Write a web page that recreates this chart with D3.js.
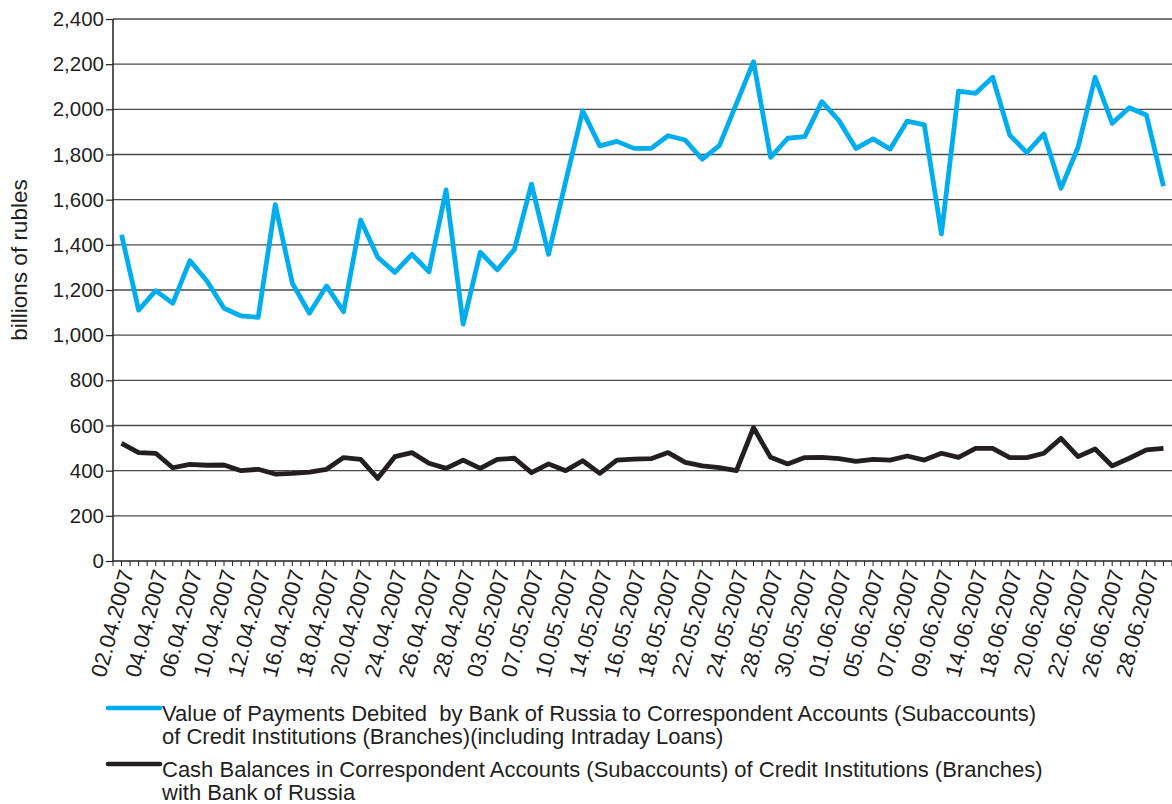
<!DOCTYPE html>
<meta charset="utf-8">
<head>
    <style>
        body { margin: 0; background: #fff; }
        text { font-family: "Liberation Sans", Arial, sans-serif; fill: #231f20; }
        .legend text { white-space: pre; }
    </style>
    <script src="https://d3js.org/d3.v7.min.js"></script>
</head>
<div id="my_dataviz"></div>

<script>

// trading days, April - June 2007
var dates = ["02.04.2007","03.04.2007","04.04.2007","05.04.2007","06.04.2007","09.04.2007","10.04.2007","11.04.2007",
    "12.04.2007","13.04.2007","16.04.2007","17.04.2007","18.04.2007","19.04.2007","20.04.2007","23.04.2007",
    "24.04.2007","25.04.2007","26.04.2007","27.04.2007","28.04.2007","02.05.2007","03.05.2007","04.05.2007",
    "07.05.2007","08.05.2007","10.05.2007","11.05.2007","14.05.2007","15.05.2007","16.05.2007","17.05.2007",
    "18.05.2007","21.05.2007","22.05.2007","23.05.2007","24.05.2007","25.05.2007","28.05.2007","29.05.2007",
    "30.05.2007","31.05.2007","01.06.2007","04.06.2007","05.06.2007","06.06.2007","07.06.2007","08.06.2007",
    "09.06.2007","13.06.2007","14.06.2007","15.06.2007","18.06.2007","19.06.2007","20.06.2007","21.06.2007",
    "22.06.2007","25.06.2007","26.06.2007","27.06.2007","28.06.2007","29.06.2007"];

// value of payments debited (billions of rubles)
var payments = [1445,1111,1197,1141,1330,1240,1119,1085,1079,1578,1230,1097,1218,1104,1510,1345,
    1278,1358,1281,1643,1049,1367,1289,1380,1669,1358,1680,1993,1838,1858,1827,1827,
    1883,1864,1779,1839,2025,2211,1787,1872,1879,2034,1950,1827,1869,1824,1948,1931,
    1448,2081,2071,2142,1886,1808,1891,1650,1832,2142,1938,2007,1975,1660];

// cash balances in correspondent accounts (billions of rubles)
var balances = [521,480,477,413,428,424,425,400,406,385,388,394,406,458,450,366,
    462,480,433,410,447,410,450,455,391,430,400,444,388,447,451,453,
    480,437,421,413,400,590,459,430,458,459,453,441,450,447,465,447,
    477,459,499,499,458,458,477,543,462,496,421,455,492,499];

var yTicks = [0,200,400,600,800,1000,1200,1400,1600,1800,2000,2200,2400];

var seriesNames = [
    ["Value of Payments Debited  by Bank of Russia to Correspondent Accounts (Subaccounts)",
     "of Credit Institutions (Branches)(including Intraday Loans)"],
    ["Cash Balances in Correspondent Accounts (Subaccounts) of Credit Institutions (Branches)",
     "with Bank of Russia"]
];
var seriesColors = ["#00aeef", "#231f20"];

var margin = {top: 19, right: 0, bottom: 243, left: 113},
    width = 1172 - margin.left - margin.right,
    height = 804 - margin.top - margin.bottom;

var xScale = d3.scaleBand().domain(d3.range(dates.length)).range([0, width]),
    yScale = d3.scaleLinear().domain([0, 2400]).range([height, 0]);

var root = d3.select("#my_dataviz")
  .append("svg")
    .attr("width", 1172)
    .attr("height", 804);

var svg = root.append("g")
    .attr("transform", "translate(" + margin.left + "," + margin.top + ")");

// gridlines + y axis
var yAxis = svg.append("g")
    .call(d3.axisLeft(yScale).tickValues(yTicks).tickSize(7).tickPadding(2)
        .tickFormat(d3.format(",")));
yAxis.select(".domain").remove();
yAxis.selectAll("line").attr("stroke", "#231f20").attr("stroke-width", 1.2);
yAxis.selectAll("text").style("font-size", "20.5px").attr("fill", "#231f20");

svg.append("g")
  .selectAll("line")
  .data(yTicks.filter(d => d > 0))
  .enter().append("line")
    .attr("x1", 0)
    .attr("x2", width)
    .attr("y1", d => yScale(d))
    .attr("y2", d => yScale(d))
    .attr("stroke", "#4a4a4a")
    .attr("stroke-width", 1.3);

svg.append("line")
    .attr("x1", 0).attr("x2", 0)
    .attr("y1", 0).attr("y2", height)
    .attr("stroke", "#231f20")
    .attr("stroke-width", 1.5);

// x axis: a tick at each category edge and centre, label every second day
var halfTicks = d3.range(dates.length * 2 + 1).map(k => k * xScale.bandwidth() / 2);
svg.append("line")
    .attr("x1", 0).attr("x2", width)
    .attr("y1", height).attr("y2", height)
    .attr("stroke", "#231f20")
    .attr("stroke-width", 1.5);
svg.append("g")
  .selectAll("line")
  .data(halfTicks)
  .enter().append("line")
    .attr("x1", d => d).attr("x2", d => d)
    .attr("y1", height).attr("y2", height + 5)
    .attr("stroke", "#231f20")
    .attr("stroke-width", 1);

svg.append("g")
  .selectAll("text")
  .data(dates.filter((d, i) => i % 2 == 0))
  .enter().append("text")
    .attr("text-anchor", "end")
    .attr("transform", (d, k) => "translate(" + (xScale(k * 2) + xScale.bandwidth() / 2 - 3) + "," + (height + 7) + ") rotate(-75)")
    .attr("dy", "0.72em")
    .style("font-size", "22px")
    .text(d => d);

// y label
root.append("text")
    .attr("text-anchor", "middle")
    .attr("transform", "translate(27,260) rotate(-90)")
    .style("font-size", "22.5px")
    .text("billions of rubles");

// lines
var line = d3.line()
    .x((d, i) => xScale(i) + xScale.bandwidth() / 2)
    .y(d => yScale(d));

[payments, balances].forEach(function(values, s) {
    svg.append("path")
        .datum(values)
        .attr("fill", "none")
        .attr("stroke", seriesColors[s])
        .attr("stroke-width", 4.8)
        .attr("stroke-linejoin", "round")
        .attr("d", line);
});

// legend
var legend = root.append("g").attr("class", "legend");
var legendY = [708, 764];
seriesNames.forEach(function(lines, s) {
    legend.append("line")
        .attr("x1", 108).attr("x2", 160)
        .attr("y1", legendY[s]).attr("y2", legendY[s])
        .attr("stroke", seriesColors[s])
        .attr("stroke-width", 4.5)
        .attr("stroke-linecap", "round");
    lines.forEach(function(t, j) {
        legend.append("text")
            .attr("x", 162)
            .attr("y", legendY[s] + 13 + j * 23)
            .style("font-size", "22px")
            .text(t);
    });
});

</script>
